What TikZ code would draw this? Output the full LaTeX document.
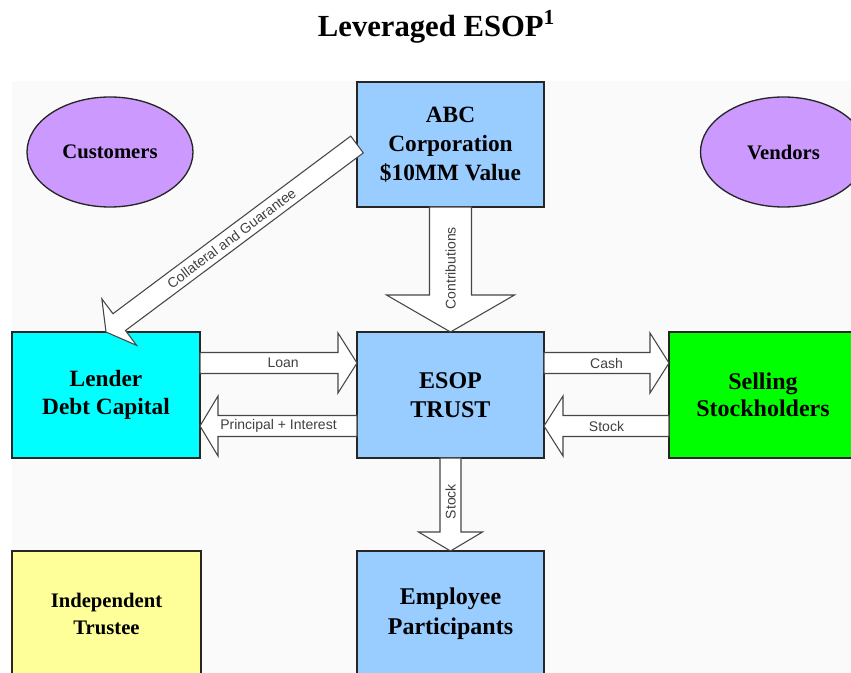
\documentclass[tikz,border=0pt]{standalone}
\usepackage{fontspec}
\setmainfont{Liberation Serif}
\newfontfamily\labelsans{Liberation Sans}
\usetikzlibrary{calc,shapes.geometric}

\definecolor{panelgray}{RGB}{250,250,250}
\definecolor{corpblue}{RGB}{153,204,255}
\definecolor{lendercyan}{RGB}{0,255,255}
\definecolor{sellgreen}{RGB}{0,255,0}
\definecolor{trustyellow}{RGB}{255,255,153}
\definecolor{partyviolet}{RGB}{204,153,255}
\definecolor{edgegray}{RGB}{70,70,70}
\definecolor{labelgray}{RGB}{64,64,64}

% Block arrow from #1 (tail centre) to #2 (tip):
% #3 shaft half width, #4 head half width, #5 head length
\newcommand\blockarr[5]{%
  \coordinate (ba-h) at ($(#2)!#5!(#1)$);
  \draw[flowarrow] ($(#1)!#3!90:(#2)$) -- ($(ba-h)!#3!90:(#2)$)
    -- ($(ba-h)!#4!90:(#2)$) -- (#2) -- ($(ba-h)!#4!-90:(#2)$)
    -- ($(ba-h)!#3!-90:(#2)$) -- ($(#1)!#3!-90:(#2)$) -- cycle;}

\tikzset{
  box/.style={rectangle, draw=black!85, line width=1pt, inner sep=0pt,
    outer sep=0pt, align=center, text=black},
  party/.style={ellipse, draw=black!85, line width=1pt, fill=partyviolet,
    minimum width=124.5pt, minimum height=82.5pt, inner sep=0pt,
    font=\bfseries\fontsize{15.5}{19}\selectfont},
  flowarrow/.style={draw=edgegray, fill=white, line width=0.8pt, line join=miter},
  flowlabel/.style={font=\labelsans\fontsize{10.5}{12}\selectfont,
    text=labelgray, inner sep=0pt},
}

\begin{document}
\begin{tikzpicture}[x=0.75pt,y=-0.75pt]
\useasboundingbox (0,0) rectangle (851,673);
\clip (0,0) rectangle (851,673);

% light panel behind the chart
\fill[panelgray] (12,81) rectangle (851,673);

% title
\node[anchor=base, inner sep=0pt, font=\bfseries\fontsize{23}{27}\selectfont]
  (title) at (436.5,37) {Leveraged ESOP\textsuperscript{1}};

% outside parties
\node[party] (cust) at (110,152) {Customers};
\node[party] (vend) at (783.5,152) {Vendors};

% boxes
\node[box, fill=corpblue, minimum width=140.25pt, minimum height=93.75pt,
  font=\bfseries\fontsize{17.5}{21.75}\selectfont]
  (abc) at (450.5,144.5) {ABC\\Corporation\\\$10MM Value};
\node[box, fill=corpblue, minimum width=140.25pt, minimum height=94.5pt,
  font=\bfseries\fontsize{18}{21.75}\selectfont]
  (esop) at (450.5,395) {ESOP\\TRUST};
\node[box, fill=lendercyan, minimum width=141pt, minimum height=94.5pt,
  font=\bfseries\fontsize{17.5}{21}\selectfont]
  (lender) at (106,395) {Lender\\Debt Capital};
\node[box, fill=sellgreen, minimum width=141pt, minimum height=94.5pt,
  font=\bfseries\fontsize{18}{20.25}\selectfont]
  (sell) at (763,395) {Selling\\Stockholders};
\node[box, fill=trustyellow, minimum width=141.75pt, minimum height=94.5pt,
  font=\bfseries\fontsize{15.5}{20}\selectfont]
  (trustee) at (106.5,614) {Independent\\Trustee};
\node[box, fill=corpblue, minimum width=140.25pt, minimum height=94.5pt,
  font=\bfseries\fontsize{18}{22.5}\selectfont]
  (emp) at (450.5,614) {Employee\\Participants};

% arrow end points on the box sides
\coordinate (loan-s) at ($(lender.east)+(0,-32)$);
\coordinate (loan-t) at ($(esop.west)+(0,-32)$);
\coordinate (pi-s) at ($(esop.west)+(0,31)$);
\coordinate (pi-t) at ($(lender.east)+(0,31)$);
\coordinate (cash-s) at ($(esop.east)+(0,-32)$);
\coordinate (cash-t) at ($(sell.west)+(0,-32)$);
\coordinate (stk-s) at ($(sell.west)+(0,31)$);
\coordinate (stk-t) at ($(esop.east)+(0,31)$);

% flows
\blockarr{abc.south}{esop.north}{15.75pt}{48pt}{27.75pt}
\blockarr{loan-s}{loan-t}{7.875pt}{22.5pt}{14.25pt}
\blockarr{pi-s}{pi-t}{7.875pt}{22.5pt}{13.5pt}
\blockarr{cash-s}{cash-t}{7.875pt}{22.5pt}{14.25pt}
\blockarr{stk-s}{stk-t}{7.875pt}{22.5pt}{14.25pt}
\blockarr{esop.south}{emp.north}{7.875pt}{24pt}{14.25pt}
\blockarr{abc.west}{lender.north}{7.875pt}{21.75pt}{12.375pt}

% flow labels
\node[flowlabel, rotate=90] (l-contrib) at ($(abc.south)!0.49!(esop.north)$) {Contributions};
\node[flowlabel] (l-loan) at ($(loan-s)!0.53!(loan-t)$) {Loan};
\node[flowlabel] (l-pi) at ($(pi-s)!0.5!(pi-t)$) {Principal + Interest};
\node[flowlabel] (l-cash) at ($(cash-s)!0.5!(cash-t)$) {Cash};
\node[flowlabel] (l-stk) at ($(stk-s)!0.5!(stk-t)$) {Stock};
\node[flowlabel, rotate=90] (l-stkdown) at ($(esop.south)!0.47!(emp.north)$) {Stock};
\path (abc.west) -- node[flowlabel, sloped] (l-coll) {Collateral and Guarantee} (lender.north);
\end{tikzpicture}
\end{document}
